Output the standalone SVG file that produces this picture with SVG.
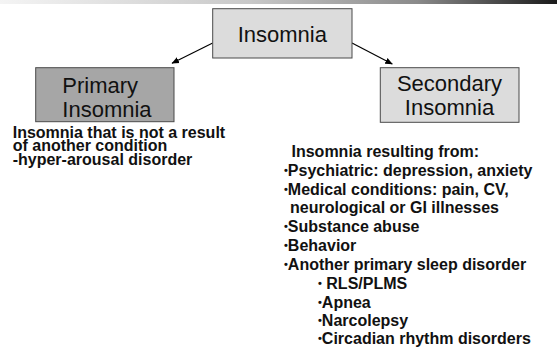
<svg xmlns="http://www.w3.org/2000/svg" width="557" height="347" viewBox="0 0 557 347">
<defs>
<linearGradient id="bar" x1="0" y1="0" x2="1" y2="0">
<stop offset="0" stop-color="#f4f4f4"/>
<stop offset="0.45" stop-color="#c8c8c8"/>
<stop offset="0.75" stop-color="#8a8a8a"/>
<stop offset="1" stop-color="#1a1a1a"/>
</linearGradient>
<marker id="ah" markerWidth="8" markerHeight="8" refX="7" refY="4" orient="auto" markerUnits="userSpaceOnUse">
<path d="M0,0.8 L7.5,4 L0,7.2 Z" fill="#000"/>
</marker>
<style>
.box{stroke:#4a4a4a;stroke-width:1}
.light{fill:#dcdcdc}
.dark{fill:#a6a6a6}
.title{font-family:"Liberation Sans",Arial,sans-serif;font-size:22px;fill:#111}
.body{font-family:"Liberation Sans",Arial,sans-serif;font-size:16px;font-weight:bold;fill:#111}
.bul{font-size:11px;baseline-shift:2px}
.conn{stroke:#000;stroke-width:1.2;fill:none}
</style>
</defs>
<rect x="0" y="0" width="557" height="4" fill="url(#bar)"/>
<g id="connectors">
<line class="conn" x1="212.7" y1="43" x2="172" y2="63.3" marker-end="url(#ah)"/>
<line class="conn" x1="352" y1="43" x2="392.3" y2="64" marker-end="url(#ah)"/>
</g>
<g id="insomnia">
<rect class="box light" x="212.7" y="8.7" width="139.3" height="49.3"/>
<text class="title" x="282.3" y="41.7" text-anchor="middle">Insomnia</text>
</g>
<g id="primary">
<rect class="box dark" x="35.7" y="67.7" width="138.3" height="54"/>
<text class="title" x="62.3" y="93">Primary</text>
<text class="title" x="62.3" y="116.5">Insomnia</text>
</g>
<g id="secondary">
<rect class="box light" x="380.3" y="67.7" width="138.7" height="54.6"/>
<text class="title" x="449.5" y="91" text-anchor="middle">Secondary</text>
<text class="title" x="449.5" y="114.5" text-anchor="middle">Insomnia</text>
</g>
<g id="primary-text" class="body">
<text x="12.7" y="137.5">Insomnia that is not a result</text>
<text x="12.7" y="151">of another condition</text>
<text x="12.7" y="165">-hyper-arousal disorder</text>
</g>
<g id="secondary-text" class="body">
<text x="291.5" y="156.5">Insomnia resulting from:</text>
<text x="284" y="175.5"><tspan class="bul">•</tspan>Psychiatric: depression, anxiety</text>
<text x="284" y="194.5"><tspan class="bul">•</tspan>Medical conditions: pain, CV,</text>
<text x="290" y="212.5">neurological or GI illnesses</text>
<text x="284" y="232"><tspan class="bul">•</tspan>Substance abuse</text>
<text x="284" y="251"><tspan class="bul">•</tspan>Behavior</text>
<text x="284" y="270"><tspan class="bul">•</tspan>Another primary sleep disorder</text>
<text x="318" y="289"><tspan class="bul">•</tspan> RLS/PLMS</text>
<text x="318" y="307.5"><tspan class="bul">•</tspan>Apnea</text>
<text x="318" y="326"><tspan class="bul">•</tspan>Narcolepsy</text>
<text x="318" y="344"><tspan class="bul">•</tspan>Circadian rhythm disorders</text>
</g>
</svg>
